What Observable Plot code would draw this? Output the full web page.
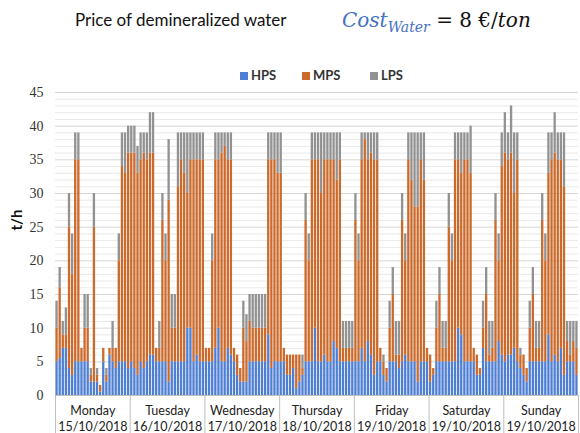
<!DOCTYPE html>
<html><head><meta charset="utf-8">
<script src="https://cdn.jsdelivr.net/npm/d3@7"></script>
<script src="https://cdn.jsdelivr.net/npm/@observablehq/plot@0.6"></script>
<style>
body{margin:0;background:#fff;font-family:Lato,sans-serif;}
#wrap{position:relative;width:580px;height:433px;overflow:hidden;background:#fff;}
#title{position:absolute;left:75px;top:9px;font-size:17px;color:#111;white-space:nowrap;}
#math{position:absolute;left:342px;top:8px;font-family:"DejaVu Serif",serif;font-size:20px;line-height:24px;white-space:nowrap;color:#111;}
#math .b{color:#4472C4;font-style:italic;}
#math sub{font-size:14px;vertical-align:-5px;line-height:0;}
#math i{font-style:italic;}
.lg{position:absolute;top:67px;font-size:13px;font-weight:bold;color:#333;white-space:nowrap;}
.lg span{display:inline-block;width:8px;height:8px;margin-right:3px;vertical-align:0px;}
#chart{position:absolute;top:85px;left:0;}
</style></head>
<body><div id="wrap">
<div id="title">Price of demineralized water</div>
<div id="math"><span class="b">Cost<sub>Water</sub></span> = 8 €/<i>ton</i></div>
<div id="legend"></div>
<div id="chart"></div>
</div>
<script>
const days = ["Monday","Tuesday","Wednesday","Thursday","Friday","Saturday","Sunday"];
const dates = ["15/10/2018","16/10/2018","17/10/2018","18/10/2018","19/10/2018","19/10/2018","19/10/2018"];
const series = ["HPS","MPS","LPS"];
const colors = ["#4E7FD4","#CB6A2B","#929292"];
const yTicks = [0,5,10,15,20,25,30,35,40,45];

const hps = [
 5,5.5,7,7,4,3,5,5,5,5,5,2,2,2,0.5,5,2,6,5,4,5,5,5,4,
 5,4,3,5,4,5,6,6,5,5,5,5,2,5,5,5,5,5,10,10,5,6,5,5,
 5,5,5,7,10,5,5,7,6,5,3,2,2,2,5,5,5,5,5,5,9,4,5,5,
 5,5,3,3,4,1,2,3,5,5,5,10,5,5,6,5,5,8,7,5,5,5,5,5,
 5,5,7,5,8,6,3,5,5,3,2,5,5,5,4,5,6,5,5,5,2,5,5,5,
 2,3,5,5,5,5,5,5,5,10,9,5,5,5,5,3,3,7,5,5,5,5,8,6,
 5,6,6,7,5,4,3,2,5,5,5,5,5,5,9,5,6,5,7,3,5,5,5,3
];
const mps = [
 5,10.5,2,2,21,15,30,30,2,5,5,1,23,1,1,2,1,1,2,3,15,29,28,32,
 31,32,30,30,32,30,30,30,2,2,21,15,27,5,5,26,30,28,20,25,30,29,30,30,
 2,2,15,28,25,31,32,28,29,2,3,2,8,6,6,5,5,5,5,5,26,31,30,28,
 28,2,3,3,2,5,4,1,21,15,30,25,30,25,29,30,30,27,25,30,2,2,2,2,
 21,15,28,33,27,30,32,30,2,2,2,5,10,1,2,21,14,30,27,23,26,30,27,2,
 4,1,5,10,2,2,20,15,30,25,24,30,30,28,2,3,1,3,10,1,2,21,12,28,
 31,29,30,23,30,2,3,2,5,10,2,2,21,15,24,30,30,30,28,28,3,1,3,4
];
const lps = [
 4,3,2,4,5,6,4,4,0,5,5,1,5,1,0,0,1,0,4,0,4,5,6,4,
 4,4,4,4,3,4,6,6,0,4,4,4,9,5,5,8,4,6,9,4,4,4,4,4,
 0,0,4,4,4,3,2,4,4,0,0,0,4,4,4,5,5,5,5,5,4,4,4,6,
 6,0,0,0,0,0,0,2,4,4,4,4,4,9,4,4,4,4,7,4,4,4,4,4,
 4,4,4,1,4,3,4,4,0,1,0,4,4,5,5,4,4,4,7,11,11,4,7,0,
 0,0,4,4,4,4,5,4,4,4,6,4,4,7,0,0,0,4,4,5,4,4,4,5,
 6,4,7,9,4,1,0,0,4,4,4,4,4,4,6,4,6,4,4,8,3,5,3,4
];

const cols = [hps, mps, lps];
const data = [];
for (let i = 0; i < hps.length; i++)
  series.forEach((s, k) => data.push({i, series: s, value: cols[k][i]}));
const minor = d3.range(0, 46).filter(v => v % 5 !== 0);
const seps = d3.range(0, days.length + 1).map(d => d * 24);

// legend
const lg = document.getElementById("legend");
const lgX = [240, 302, 370];
series.forEach((s, k) => {
  const el = document.createElement("div");
  el.className = "lg"; el.style.left = lgX[k] + "px";
  el.innerHTML = `<span style="background:${colors[k]}"></span>${s}`;
  lg.appendChild(el);
});

const chart = Plot.plot({
  width: 580, height: 348,
  marginLeft: 55, marginRight: 2, marginTop: 7, marginBottom: 38,
  style: {fontFamily: "Lato, sans-serif", fontSize: "12px", background: "white"},
  x: {domain: [0, 168], axis: null},
  y: {domain: [0, 45], axis: null},
  color: {domain: series, range: colors},
  marks: [
    Plot.ruleY(minor, {stroke: "#e9e9e9"}),
    Plot.ruleY(yTicks, {stroke: "#d6d6d6"}),
    Plot.rectY(data, {x1: "i", x2: d => d.i + 1, y: "value", fill: "series", order: series, insetLeft: 0.4, insetRight: 0.4}),
    Plot.ruleY([0], {stroke: "#bfbfbf"}),
    Plot.ruleX(seps, {x: d => d, y1: 0, y2: -5.65, stroke: "#bfbfbf"}),
    Plot.text(yTicks, {x: 0, y: d => d, text: d => String(d), textAnchor: "end", dx: -12, fill: "#333", fontSize: 14, fontFamily: "Liberation Serif, serif"}),
    Plot.text(days, {x: (d, i) => i * 24 + 12, y: 0, dy: 15, text: d => d, fill: "#222", fontSize: 12.5}),
    Plot.text(dates, {x: (d, i) => i * 24 + 12, y: 0, dy: 31, text: d => d, fill: "#222", fontSize: 12.5}),
    Plot.text(["t/h"], {frameAnchor: "left", y: () => 24.5, dx: -38, rotate: -90, text: d => d, fontWeight: "bold", fontSize: 15, fill: "#111"})
  ]
});
document.getElementById("chart").appendChild(chart);
</script>
</body></html>
